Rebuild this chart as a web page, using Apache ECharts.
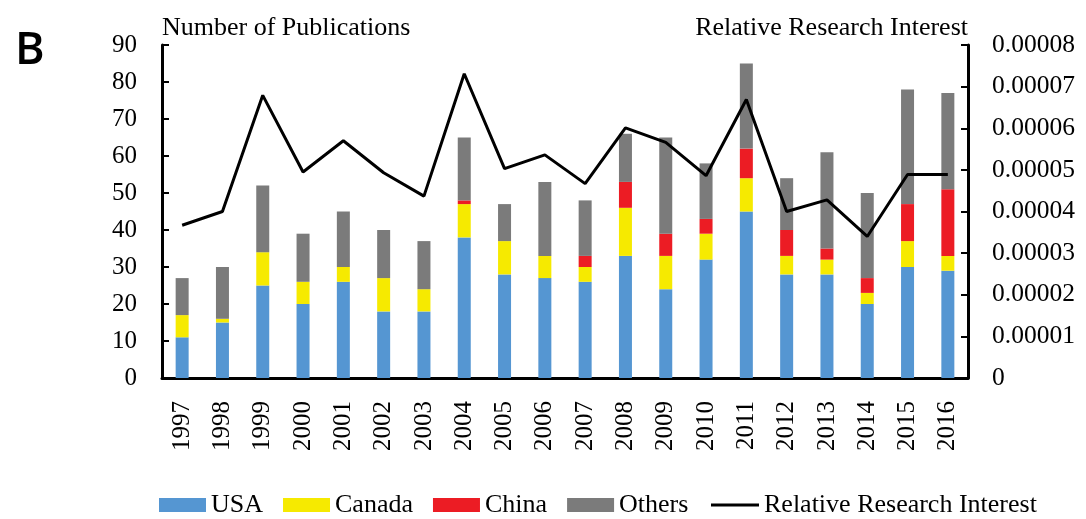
<!DOCTYPE html>
<html style="height: 100%">
   <head>
       <meta charset="utf-8">
       <script src="https://cdn.jsdelivr.net/npm/echarts@6/dist/echarts.min.js"></script>
    <style type="text/css">
      *{
        margin: 0;padding: 0;
      }
    </style>
   </head>
   <body style="height: 100%; margin: 0; background: #fff">
       <div id="container" style="width: 1086px; height: 519px"></div>
       <script type="text/javascript">
          var years = ['1997','1998','1999','2000','2001','2002','2003','2004','2005','2006',
                       '2007','2008','2009','2010','2011','2012','2013','2014','2015','2016'];
          var usa    = [11, 15, 25, 20, 26, 18, 18, 38, 28, 27, 26, 33, 24, 32, 45, 28, 28, 20, 30, 29];
          var canada = [ 6,  1,  9,  6,  4,  9,  6,  9,  9,  6,  4, 13,  9,  7,  9,  5,  4,  3,  7,  4];
          var china  = [ 0,  0,  0,  0,  0,  0,  0,  1,  0,  0,  3,  7,  6,  4,  8,  7,  3,  4, 10, 18];
          var others = [10, 14, 18, 13, 15, 13, 13, 17, 10, 20, 15, 13, 26, 15, 23, 14, 26, 23, 31, 26];
          // relative research interest (right axis)
          var interest = [0.0000367, 0.0000400, 0.0000679, 0.0000495, 0.0000570, 0.0000493, 0.0000437,
                          0.0000731, 0.0000503, 0.0000536, 0.0000467, 0.0000601, 0.0000566, 0.0000486,
                          0.0000669, 0.0000400, 0.0000428, 0.0000340, 0.0000489, 0.0000489];

          var dom = document.getElementById("container");
          var myChart = echarts.init(dom);
          var serif = '"Liberation Serif", "Times New Roman", serif';

          function bar(name, data, color) {
              return {
                  name: name,
                  type: 'bar',
                  stack: 'pub',
                  barWidth: 13,
                  itemStyle: {color: color},
                  data: data
              };
          }

          var option = {
              animation: false,
              textStyle: {fontFamily: serif, color: '#000'},
              graphic: [{
                  type: 'text',
                  left: 15,
                  top: 29,
                  style: {text: 'B', font: '600 45px "Open Sans", sans-serif', fill: '#000'}
              }],
              grid: {left: 162, right: 118, top: 45, bottom: 141, containLabel: false, outerBoundsMode: 'none'},
              legend: [{
                  left: 154,
                  top: 487,
                  itemWidth: 47,
                  itemHeight: 14,
                  itemGap: 20,
                  icon: 'rect',
                  textStyle: {fontFamily: serif, fontSize: 26, color: '#000'},
                  data: ['USA', 'Canada', 'China', 'Others']
              }, {
                  left: 706,
                  top: 487,
                  itemWidth: 48,
                  itemHeight: 3,
                  icon: 'rect',
                  textStyle: {fontFamily: serif, fontSize: 26, color: '#000'},
                  data: ['Relative Research Interest']
              }],
              xAxis: {
                  type: 'category',
                  data: years,
                  axisLine: {lineStyle: {color: '#000', width: 3}},
                  axisTick: {inside: true, length: 7, lineStyle: {color: '#000', width: 2}},
                  axisLabel: {rotate: 90, margin: 23, fontSize: 25, color: '#000', fontFamily: serif}
              },
              yAxis: [{
                  type: 'value',
                  min: 0, max: 90, interval: 10,
                  name: 'Number of Publications',
                  nameLocation: 'end',
                  nameGap: 4,
                  nameTextStyle: {align: 'left', fontSize: 26, color: '#000', fontFamily: serif},
                  splitLine: {show: false},
                  axisLine: {show: true, lineStyle: {color: '#000', width: 3}},
                  axisTick: {show: true, inside: true, length: 7, lineStyle: {color: '#000', width: 2}},
                  axisLabel: {margin: 25, fontSize: 25, color: '#000', fontFamily: serif}
              }, {
                  type: 'value',
                  min: 0, max: 0.00008, interval: 0.00001,
                  name: 'Relative Research Interest',
                  nameLocation: 'end',
                  nameGap: 4,
                  nameTextStyle: {align: 'right', fontSize: 26, color: '#000', fontFamily: serif},
                  splitLine: {show: false},
                  axisLine: {show: true, lineStyle: {color: '#000', width: 3}},
                  axisTick: {show: true, inside: true, length: 7, lineStyle: {color: '#000', width: 2}},
                  axisLabel: {
                      margin: 24, fontSize: 25.5, color: '#000', fontFamily: serif,
                      formatter: function (v) { return v === 0 ? '0' : v.toFixed(5); }
                  }
              }],
              series: [
                  bar('USA', usa, '#5596d2'),
                  bar('Canada', canada, '#f6ea00'),
                  bar('China', china, '#ec1c24'),
                  bar('Others', others, '#7b7b7b'),
                  {
                      name: 'Relative Research Interest',
                      type: 'line',
                      yAxisIndex: 1,
                      symbol: 'none',
                      lineStyle: {color: '#000', width: 3},
                      itemStyle: {color: '#000'},
                      data: interest
                  }
              ]
          };

          myChart.setOption(option);
       </script>
   </body>
</html>
